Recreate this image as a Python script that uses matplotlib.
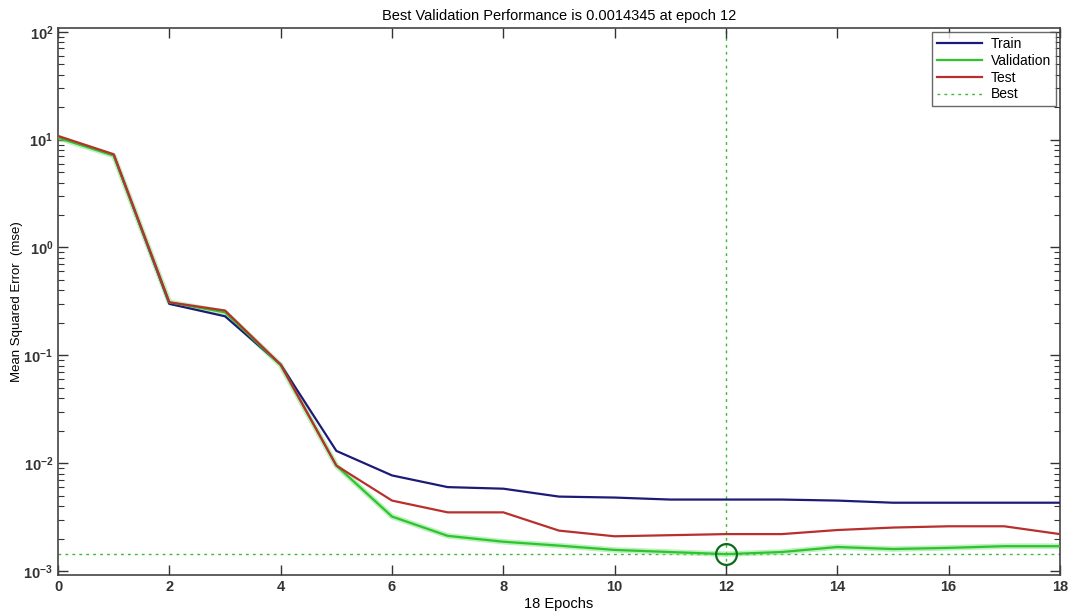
import matplotlib
matplotlib.use("Agg")
import matplotlib.pyplot as plt
from matplotlib.ticker import LogLocator, FixedLocator
import numpy as np

plt.rcParams['font.family'] = ['Liberation Sans', 'DejaVu Sans']
plt.rcParams['mathtext.fontset'] = 'custom'
plt.rcParams['mathtext.rm'] = 'Liberation Sans'
plt.rcParams['mathtext.it'] = 'Liberation Sans'

epochs = list(range(19))
train = [10.6, 7.2, 0.30, 0.23, 0.082, 0.013, 0.0077, 0.0060, 0.0058, 0.0049, 0.0048,
         0.0046, 0.0046, 0.0046, 0.0045, 0.0043, 0.0043, 0.0043, 0.0043]
validation = [10.4, 7.1, 0.31, 0.25, 0.081, 0.0095, 0.0032, 0.00212, 0.00187, 0.00172, 0.00157,
              0.00150, 0.0014345, 0.00150, 0.00167, 0.00160, 0.00164, 0.00170, 0.00170]
test = [10.8, 7.3, 0.31, 0.26, 0.082, 0.0095, 0.0045, 0.0035, 0.0035, 0.00237, 0.0021,
        0.00215, 0.0022, 0.0022, 0.0024, 0.00253, 0.0026, 0.0026, 0.0022]
best_epoch = 12
best_value = 0.0014345
xticks = [0, 2, 4, 6, 8, 10, 12, 14, 16, 18]

fig = plt.figure(figsize=(10.75, 6.11), dpi=100)
ax = fig.add_axes([0.054, 0.059, 0.932, 0.895])

ax.plot(epochs, validation, color='#7fe07f', lw=4, alpha=0.5, zorder=2)
ax.plot(epochs, train, color='#1c1c78', lw=1.6, label='Train', zorder=3)
ax.plot(epochs, validation, color='#2ec42e', lw=1.6, label='Validation', zorder=3)
ax.plot(epochs, test, color='#b8302e', lw=1.6, label='Test', zorder=4)
ax.axhline(best_value, color='#3cb83c', lw=1.0, ls=(0, (2, 3)), label='Best', zorder=1)
ax.axvline(best_epoch, color='#3cb83c', lw=1.0, ls=(0, (2, 3)), zorder=1)
ax.plot([best_epoch], [best_value], marker='o', ms=15, mfc='none', mec='#0b6b1a', mew=1.6, zorder=5)

ax.set_yscale('log')
ax.set_xlim(0, 18)
ax.set_ylim(9.2e-4, 1.08e2)
ax.xaxis.set_major_locator(FixedLocator(xticks))
ax.yaxis.set_major_locator(LogLocator(base=10, numticks=10))
ax.yaxis.set_minor_locator(LogLocator(base=10, subs=np.arange(2, 10), numticks=20))
ax.tick_params(which='both', direction='in', top=True, right=True, labelsize=10.5, color='#333333')
ax.tick_params(which='major', length=7, width=1)
ax.tick_params(which='minor', length=4, width=0.8)
for lbl in ax.get_xticklabels() + ax.get_yticklabels():
    lbl.set_fontweight('bold')
    lbl.set_color('#333333')
for s in ax.spines.values():
    s.set_color('#444444')
    s.set_linewidth(1.2)

ax.set_title('Best Validation Performance is 0.0014345 at epoch 12', fontsize=10.5, pad=6)
ax.set_xlabel('18 Epochs', fontsize=10.5, labelpad=2)
ax.set_ylabel('Mean Squared Error  (mse)', fontsize=9.5)
ax.yaxis.set_label_coords(-0.035, 0.5)

leg = ax.legend(loc='upper right', fontsize=10, frameon=True, fancybox=False,
                edgecolor='#444444', borderpad=0.35, labelspacing=0.2, handlelength=3.3,
                handletextpad=0.6, borderaxespad=0.3)
leg.get_frame().set_linewidth(1.0)

fig.savefig('out.png', dpi=100, facecolor='white')
